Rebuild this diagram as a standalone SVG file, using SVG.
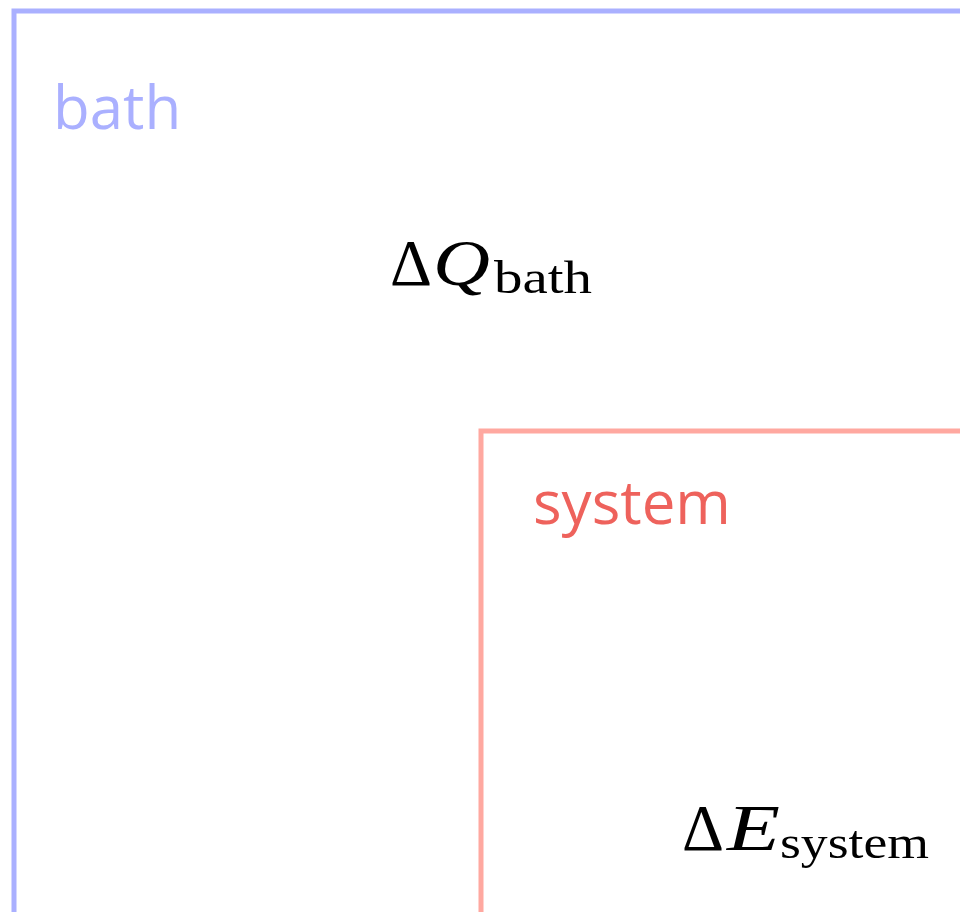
<svg xmlns="http://www.w3.org/2000/svg" width="960" height="912" viewBox="0 0 960 912">
<style>
.box{fill:none;stroke-width:5}
.lbl{font-family:"Open Sans","DejaVu Sans",sans-serif;font-size:60px}
.m{font-family:"Liberation Serif","DejaVu Serif",serif;fill:#000}
.big{font-size:66px}
.it{font-style:italic}
.sub{font-size:46px}
</style>
<rect width="960" height="912" fill="#fff"/>
<g id="bath">
<rect class="box" x="14" y="11" width="1000" height="1000" stroke="#aab0ff"/>
<text class="lbl" x="53" y="129" fill="#aab0ff">bath</text>
<g id="dQ">
<text class="m big" x="390" y="285" textLength="42" lengthAdjust="spacingAndGlyphs">Δ</text>
<text class="m big it" x="433" y="285" textLength="57" lengthAdjust="spacingAndGlyphs">Q</text>
<text class="m sub" x="494" y="293" textLength="98" lengthAdjust="spacingAndGlyphs">bath</text>
</g>
</g>
<g id="system">
<rect class="box" x="481" y="431" width="1000" height="1000" stroke="#ffa8a0"/>
<text class="lbl" x="533" y="524" fill="#ee625c">system</text>
<g id="dE">
<text class="m big" x="682" y="850" textLength="42" lengthAdjust="spacingAndGlyphs">Δ</text>
<text class="m big it" x="727" y="850" textLength="53" lengthAdjust="spacingAndGlyphs">E</text>
<text class="m sub" x="780" y="858" textLength="149" lengthAdjust="spacingAndGlyphs">system</text>
</g>
</g>
<g id="connectors"/>
</svg>
